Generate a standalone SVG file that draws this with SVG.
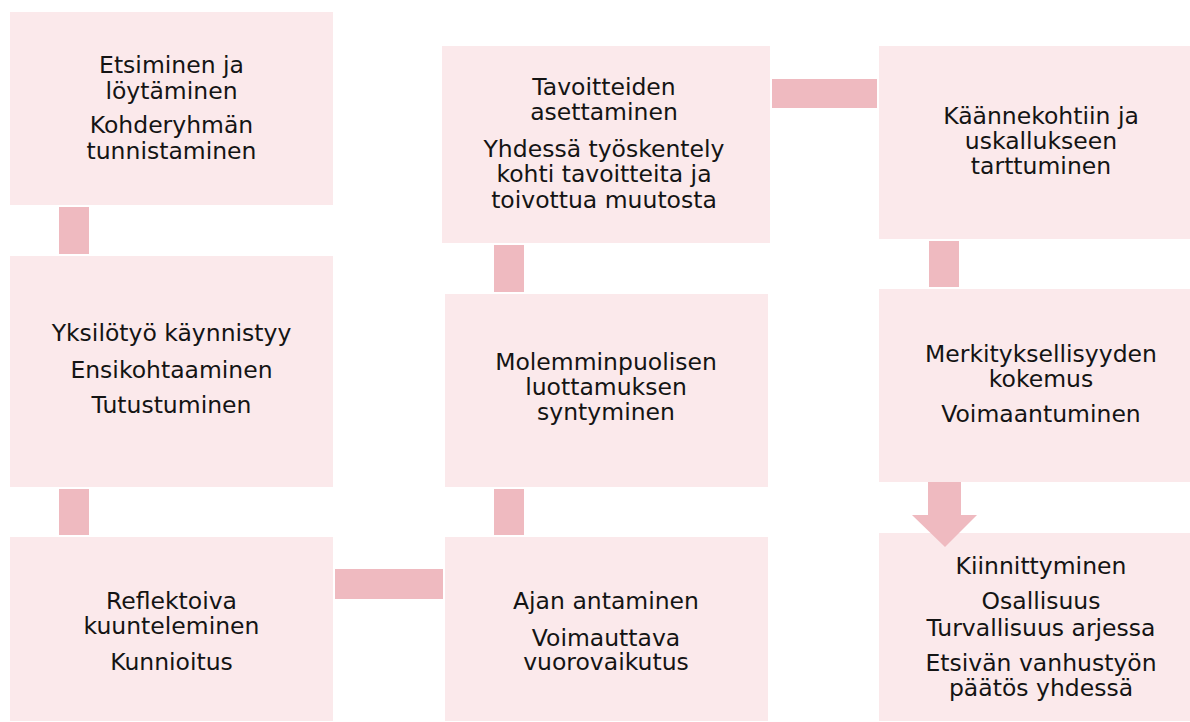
<svg xmlns="http://www.w3.org/2000/svg" width="1190" height="722" viewBox="0 0 1190 722">
<style>
.box{fill:#fbe9eb}
.con{fill:#efbac0}
text{font-family:"DejaVu Sans","Liberation Sans",sans-serif;font-size:23.5px;fill:#141414;text-anchor:middle}
</style>
<rect width="1190" height="722" fill="#ffffff"/>
<g id="connectors">
<rect class="con" x="59" y="207" width="30" height="47"/>
<rect class="con" x="59" y="489" width="30" height="46"/>
<rect class="con" x="335" y="569" width="108" height="30"/>
<rect class="con" x="494" y="489" width="30" height="46"/>
<rect class="con" x="494" y="245" width="30" height="47"/>
<rect class="con" x="772" y="79" width="105" height="29"/>
<rect class="con" x="929" y="241" width="30" height="46"/>
</g>
<g id="n1"><rect class="box" x="10" y="12" width="323" height="193"/>
<text x="171.5" y="72.7">Etsiminen ja</text><text x="171.5" y="98.7">löytäminen</text><text x="171.5" y="133.3">Kohderyhmän</text><text x="171.5" y="159.3">tunnistaminen</text></g>
<g id="n2"><rect class="box" x="10" y="256" width="323" height="231"/>
<text x="171.5" y="340.7">Yksilötyö käynnistyy</text><text x="171.5" y="377.7">Ensikohtaaminen</text><text x="171.5" y="412.7">Tutustuminen</text></g>
<g id="n3"><rect class="box" x="10" y="537" width="323" height="184"/>
<text x="171.5" y="609.3">Reflektoiva</text><text x="171.5" y="634.3">kuunteleminen</text><text x="171.5" y="670">Kunnioitus</text></g>
<g id="n4"><rect class="box" x="445" y="537" width="323" height="184"/>
<text x="606" y="609.3">Ajan antaminen</text><text x="606" y="646">Voimauttava</text><text x="606" y="670">vuorovaikutus</text></g>
<g id="n5"><rect class="box" x="445" y="294" width="323" height="193"/>
<text x="606" y="369.7">Molemminpuolisen</text><text x="606" y="394.7">luottamuksen</text><text x="606" y="419.7">syntyminen</text></g>
<g id="n6"><rect class="box" x="442" y="46" width="328" height="197"/>
<text x="604" y="95">Tavoitteiden</text><text x="604" y="120">asettaminen</text><text x="604" y="156.7">Yhdessä työskentely</text><text x="604" y="182.3">kohti tavoitteita ja</text><text x="604" y="207.7">toivottua muutosta</text></g>
<g id="n7"><rect class="box" x="879" y="46" width="324" height="193"/>
<text x="1041" y="124.3">Käännekohtiin ja</text><text x="1041" y="149.3">uskallukseen</text><text x="1041" y="174.3">tarttuminen</text></g>
<g id="n8"><rect class="box" x="879" y="289" width="324" height="193"/>
<text x="1041" y="361.7">Merkityksellisyyden</text><text x="1041" y="386.7">kokemus</text><text x="1041" y="421.7">Voimaantuminen</text></g>
<g id="n9"><rect class="box" x="879" y="533" width="324" height="188"/>
<text x="1041" y="574.3">Kiinnittyminen</text><text x="1041" y="609">Osallisuus</text><text x="1041" y="635.7">Turvallisuus arjessa</text><text x="1041" y="670.7">Etsivän vanhustyön</text><text x="1041" y="696">päätös yhdessä</text></g>
<g id="arrow">
<path class="con" d="M928 482 H961 V515 H977 L945 547 L912 515 H928 Z"/>
</g>
</svg>
